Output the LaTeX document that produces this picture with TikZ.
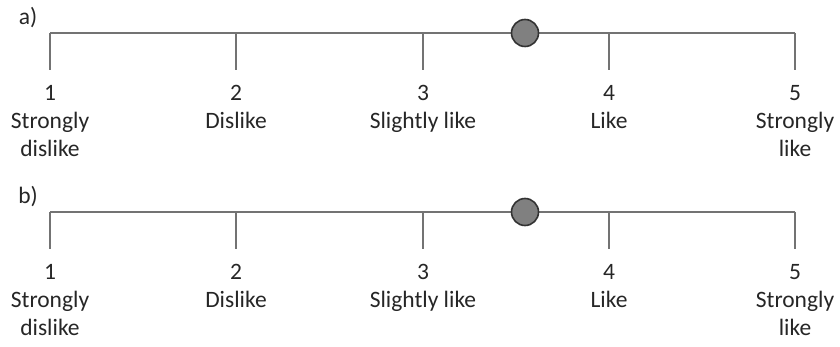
\documentclass[tikz,border=0pt]{standalone}
\usepackage{fontspec}
\setmainfont{Carlito}
\begin{document}
\begin{tikzpicture}[x=1pt,y=-1pt,
  scaleline/.style={draw=black!55, line width=2.2pt},
  tickline/.style={draw=black!55, line width=1.6pt},
  marker/.style={circle, draw=black!80, line width=1.6pt, fill=black!50, minimum size=27pt, inner sep=0pt},
  lbl/.style={font=\fontsize{23.5}{28}\selectfont, text=black!85, align=center, inner sep=0pt, anchor=north},
  part/.style={font=\fontsize{23.5}{28}\selectfont, text=black!85, inner sep=0pt}]
\useasboundingbox (0,0) rectangle (840,347);
\foreach \r/\y/\t in {a/33/a), b/212/b)} {
  \node[part] (\r lab) at (28,{\y-15}) {\t};
  \foreach \i/\x in {1/50,2/236,3/423,4/609,5/795} {
    \coordinate (\r t\i) at (\x,\y);
    \coordinate (\r b\i) at (\x,{\y+37});
  }
  \draw[scaleline] (\r t1) -- (\r t5);
  \foreach \i in {1,...,5} { \draw[tickline] (\r t\i) -- (\r b\i); }
  \node[lbl] (\r n1) at ([yshift=-15]\r b1) {1\\Strongly\\dislike};
  \node[lbl] (\r n2) at ([yshift=-15]\r b2) {2\\Dislike};
  \node[lbl] (\r n3) at ([yshift=-15]\r b3) {3\\Slightly like};
  \node[lbl] (\r n4) at ([yshift=-15]\r b4) {4\\Like};
  \node[lbl] (\r n5) at ([yshift=-15]\r b5) {5\\Strongly\\like};
  \node[marker] (\r m) at (525,\y) {};
}
\end{tikzpicture}
\end{document}
